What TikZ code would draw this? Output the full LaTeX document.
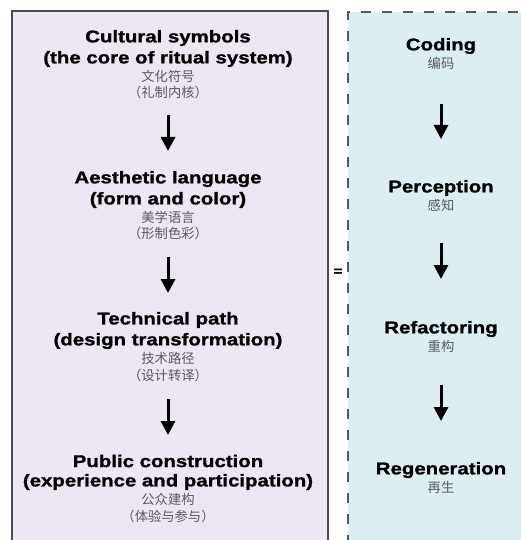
\documentclass[tikz,border=0pt]{standalone}
\usepackage{fontspec}
\setmainfont{Liberation Sans}
\newfontfamily\heavyfont[FakeStretch=1.2,FakeBold=1.2]{Liberation Sans Bold}
\newfontfamily\cjk{Noto Sans CJK SC}
\usetikzlibrary{arrows.meta}
\definecolor{lboxfill}{HTML}{ECE7F3}
\definecolor{lboxdraw}{HTML}{4F4659}
\definecolor{rboxfill}{HTML}{DDEEF3}
\definecolor{rboxdraw}{HTML}{4A5E5E}
\definecolor{cntext}{HTML}{5A5A5A}
\tikzset{
  x=1pt,y=-1pt,
  entitle/.style={font=\heavyfont\fontsize{17}{20}\selectfont, inner sep=0pt, anchor=center},
  cnlabel/.style={font=\cjk\fontsize{13.3}{15}\selectfont, text=cntext, inner sep=0pt, anchor=center},
  flowarrow/.style={line width=3pt, -{Triangle[length=14pt,width=14pt]}, black},
}
\begin{document}
\begin{tikzpicture}
\useasboundingbox (0,0) rectangle (520,540);
% boxes
\fill[lboxfill] (12,11) rectangle (328,545);
\draw[lboxdraw, line width=2pt] (12,545) -- (12,11) -- (328,11) -- (328,545);
\fill[rboxfill] (348,12) rectangle (525,545);
\draw[rboxdraw, line width=2.5pt, dash pattern=on 10pt off 11pt] (348,545) -- (348,12) -- (525,12);
\node[font=\heavyfont\fontsize{13}{15}\selectfont, inner sep=0pt] (eq) at (338,272) {=};

% left column
\node[entitle] (c1a) at (168,38) {Cultural symbols};
\node[entitle] (c1b) at (168,59) {(the core of ritual system)};
\node[cnlabel] (c1c) at (168,76) {文化符号};
\node[cnlabel] (c1d) at (168,92) {（礼制内核）};
\coordinate (a1s) at (168,115);
\coordinate (a1e) at (168,151);
\draw[flowarrow] (a1s) -- (a1e);

\node[entitle] (c2a) at (168,179) {Aesthetic language};
\node[entitle] (c2b) at (168,200) {(form and color)};
\node[cnlabel] (c2c) at (168,217) {美学语言};
\node[cnlabel] (c2d) at (168,233) {（形制色彩）};
\coordinate (a2s) at (168,257);
\coordinate (a2e) at (168,293);
\draw[flowarrow] (a2s) -- (a2e);

\node[entitle] (c3a) at (168,320) {Technical path};
\node[entitle] (c3b) at (168,341) {(design transformation)};
\node[cnlabel] (c3c) at (168,358) {技术路径};
\node[cnlabel] (c3d) at (168,375) {（设计转译）};
\coordinate (a3s) at (168,399);
\coordinate (a3e) at (168,435);
\draw[flowarrow] (a3s) -- (a3e);

\node[entitle] (c4a) at (168,461) {Public construction};
\node[entitle] (c4b) at (168,482) {(experience and participation)};
\node[cnlabel] (c4c) at (168,499) {公众建构};
\node[cnlabel] (c4d) at (168,516) {（体验与参与）};

% right column
\node[entitle] (r1a) at (441,46) {Coding};
\node[cnlabel] (r1b) at (441,63) {编码};
\coordinate (b1s) at (441,104);
\coordinate (b1e) at (441,139);
\draw[flowarrow] (b1s) -- (b1e);

\node[entitle] (r2a) at (441,188) {Perception};
\node[cnlabel] (r2b) at (441,205) {感知};
\coordinate (b2s) at (441,243);
\coordinate (b2e) at (441,279);
\draw[flowarrow] (b2s) -- (b2e);

\node[entitle] (r3a) at (441,329) {Refactoring};
\node[cnlabel] (r3b) at (441,346) {重构};
\coordinate (b3s) at (441,385);
\coordinate (b3e) at (441,421);
\draw[flowarrow] (b3s) -- (b3e);

\node[entitle] (r4a) at (441,470) {Regeneration};
\node[cnlabel] (r4b) at (441,487) {再生};
\end{tikzpicture}
\end{document}
